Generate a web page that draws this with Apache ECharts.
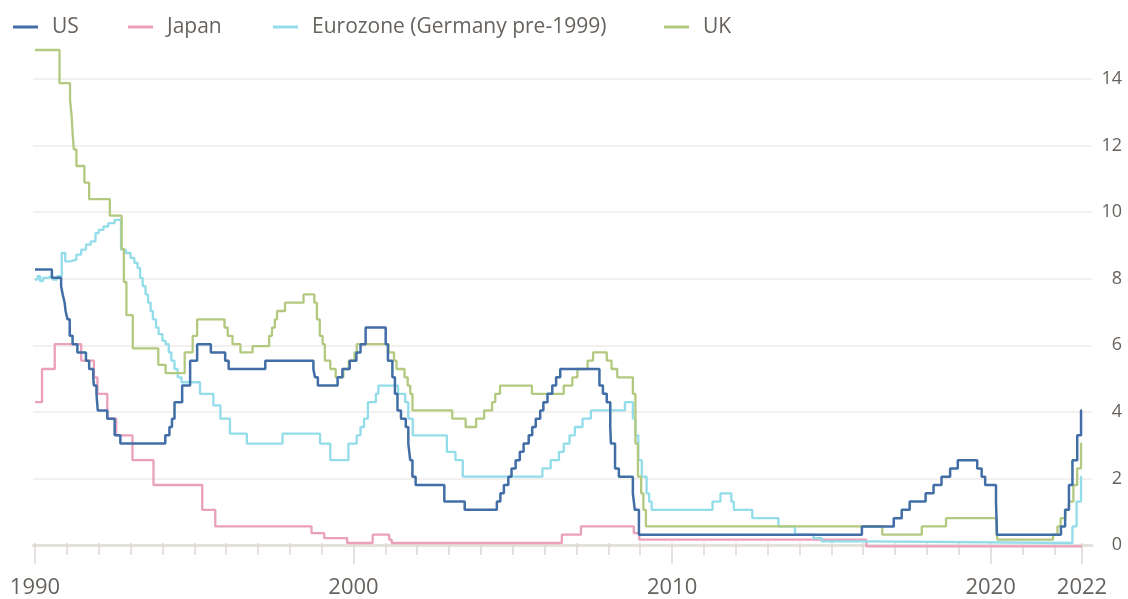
<!DOCTYPE html>
<html>
<head>
<meta charset="utf-8">
<script src="https://cdn.jsdelivr.net/npm/echarts@6/dist/echarts.min.js"></script>
<style>
  html, body { margin: 0; padding: 0; background: #ffffff; }
  #main { width: 1128px; height: 599px; }
</style>
</head>
<body>
<div id="main"></div>
<script>
// Policy interest rates, %. Each pair is [decimal year, rate from that date on].
const usRate = [
  [1990.0, 8.25], [1990.53, 8.0], [1990.82, 7.75], [1990.87, 7.5], [1990.93, 7.25], [1990.96, 7.0],
  [1991.02, 6.75], [1991.09, 6.25], [1991.18, 6.0], [1991.33, 5.75], [1991.6, 5.5], [1991.7, 5.25],
  [1991.83, 5.0], [1991.85, 4.75], [1991.93, 4.5], [1991.97, 4.0], [1992.27, 3.75], [1992.5, 3.25],
  [1992.68, 3.0], [1994.09, 3.25], [1994.22, 3.5], [1994.3, 3.75], [1994.38, 4.25], [1994.62, 4.75],
  [1994.87, 5.5], [1995.09, 6.0], [1995.52, 5.75], [1995.97, 5.5], [1996.08, 5.25], [1997.23, 5.5],
  [1998.74, 5.25], [1998.79, 5.0], [1998.88, 4.75], [1999.5, 5.0], [1999.65, 5.25], [1999.88, 5.5],
  [2000.09, 5.75], [2000.22, 6.0], [2000.38, 6.5], [2001.01, 6.0], [2001.08, 5.5], [2001.22, 5.0],
  [2001.3, 4.5], [2001.38, 4.0], [2001.49, 3.75], [2001.64, 3.5], [2001.72, 3.0], [2001.78, 2.5],
  [2001.85, 2.0], [2001.95, 1.75], [2002.85, 1.25], [2003.49, 1.0], [2004.5, 1.25], [2004.61, 1.5],
  [2004.72, 1.75], [2004.86, 2.0], [2004.96, 2.25], [2005.09, 2.5], [2005.22, 2.75], [2005.34, 3.0],
  [2005.5, 3.25], [2005.61, 3.5], [2005.72, 3.75], [2005.86, 4.0], [2005.96, 4.25], [2006.09, 4.5],
  [2006.24, 4.75], [2006.36, 5.0], [2006.49, 5.25], [2007.72, 4.75], [2007.83, 4.5], [2007.95, 4.25],
  [2008.06, 3.5], [2008.08, 3.0], [2008.21, 2.25], [2008.33, 2.0], [2008.77, 1.5], [2008.83, 1.0],
  [2008.96, 0.25], [2015.96, 0.5], [2016.96, 0.75], [2017.21, 1.0], [2017.46, 1.25], [2017.96, 1.5],
  [2018.21, 1.75], [2018.46, 2.0], [2018.73, 2.25], [2018.97, 2.5], [2019.58, 2.25], [2019.72, 2.0],
  [2019.83, 1.75], [2020.17, 1.25], [2020.2, 0.25], [2022.21, 0.5], [2022.34, 1.0], [2022.46, 1.75],
  [2022.57, 2.5], [2022.72, 3.25], [2022.84, 4.0], [2022.87, 4.0]
];

const japanRate = [
  [1990.0, 4.25], [1990.22, 5.25], [1990.62, 6.0], [1991.45, 5.5], [1991.85, 5.0], [1991.96, 4.5],
  [1992.27, 3.75], [1992.55, 3.25], [1993.06, 2.5], [1993.72, 1.75], [1995.25, 1.0], [1995.66, 0.5],
  [1998.68, 0.3], [1999.08, 0.15], [1999.8, 0.0], [2000.6, 0.25], [2001.12, 0.1], [2001.2, 0.0],
  [2006.54, 0.25], [2007.14, 0.5], [2008.8, 0.3], [2008.97, 0.1], [2016.1, -0.1], [2022.87, -0.1]
];

const eurozoneRate = [
  [1990.0, 7.95], [1990.08, 8.05], [1990.16, 7.9], [1990.25, 8.0], [1990.4, 8.05], [1990.55, 7.95],
  [1990.7, 8.05], [1990.84, 8.75], [1990.95, 8.5], [1991.1, 8.55], [1991.3, 8.7], [1991.45, 8.85],
  [1991.6, 9.0], [1991.75, 9.1], [1991.9, 9.35], [1992.0, 9.45], [1992.15, 9.55], [1992.3, 9.65],
  [1992.5, 9.75], [1992.7, 8.85], [1992.85, 8.75], [1993.0, 8.6], [1993.12, 8.45], [1993.22, 8.3],
  [1993.3, 8.0], [1993.38, 7.75], [1993.47, 7.5], [1993.55, 7.25], [1993.63, 7.0], [1993.7, 6.75],
  [1993.8, 6.5], [1993.88, 6.3], [1994.0, 6.1], [1994.1, 6.0], [1994.2, 5.75], [1994.28, 5.5],
  [1994.38, 5.25], [1994.48, 5.0], [1994.6, 4.85], [1995.18, 4.5], [1995.6, 4.15], [1995.82, 3.75],
  [1996.12, 3.3], [1996.65, 3.0], [1997.77, 3.3], [1998.95, 3.0], [1999.27, 2.5], [1999.84, 3.0],
  [2000.1, 3.25], [2000.22, 3.5], [2000.33, 3.75], [2000.45, 4.25], [2000.7, 4.5], [2000.78, 4.75],
  [2001.4, 4.5], [2001.62, 4.25], [2001.72, 3.75], [2001.86, 3.25], [2002.93, 2.75], [2003.2, 2.5],
  [2003.43, 2.0], [2005.93, 2.25], [2006.19, 2.5], [2006.45, 2.75], [2006.6, 3.0], [2006.78, 3.25],
  [2006.95, 3.5], [2007.19, 3.75], [2007.45, 4.0], [2008.52, 4.25], [2008.77, 3.75], [2008.85, 3.25],
  [2008.94, 2.5], [2009.05, 2.0], [2009.2, 1.5], [2009.28, 1.25], [2009.36, 1.0], [2011.27, 1.25],
  [2011.52, 1.5], [2011.86, 1.25], [2011.94, 1.0], [2012.52, 0.75], [2013.34, 0.5], [2013.86, 0.25],
  [2014.44, 0.15], [2014.7, 0.05], [2016.2, 0.0], [2022.57, 0.5], [2022.7, 1.25], [2022.84, 2.0],
  [2022.87, 2.0]
];

const ukRate = [
  [1990.0, 14.875], [1990.77, 13.875], [1991.1, 13.375], [1991.15, 12.875], [1991.18, 12.375],
  [1991.22, 11.875], [1991.3, 11.375], [1991.55, 10.875], [1991.7, 10.375], [1992.35, 9.875],
  [1992.72, 8.875], [1992.79, 7.875], [1992.87, 6.875], [1993.07, 5.875], [1993.87, 5.375],
  [1994.1, 5.125], [1994.7, 5.75], [1994.95, 6.25], [1995.09, 6.75], [1995.95, 6.5], [1996.05, 6.25],
  [1996.2, 6.0], [1996.45, 5.75], [1996.83, 5.94], [1997.35, 6.25], [1997.44, 6.5], [1997.53, 6.75],
  [1997.6, 7.0], [1997.85, 7.25], [1998.43, 7.5], [1998.77, 7.25], [1998.85, 6.75], [1998.94, 6.25],
  [1999.03, 6.0], [1999.1, 5.5], [1999.27, 5.25], [1999.44, 5.0], [1999.68, 5.25], [1999.85, 5.5],
  [2000.03, 5.75], [2000.1, 6.0], [2001.1, 5.75], [2001.27, 5.5], [2001.35, 5.25], [2001.6, 5.0],
  [2001.7, 4.75], [2001.78, 4.5], [2001.85, 4.0], [2003.1, 3.75], [2003.52, 3.5], [2003.85, 3.75],
  [2004.1, 4.0], [2004.35, 4.25], [2004.45, 4.5], [2004.6, 4.75], [2005.6, 4.5], [2006.6, 4.75],
  [2006.87, 5.0], [2007.03, 5.25], [2007.35, 5.5], [2007.52, 5.75], [2007.95, 5.5], [2008.1, 5.25],
  [2008.28, 5.0], [2008.77, 4.5], [2008.85, 3.0], [2008.93, 2.0], [2009.03, 1.5], [2009.1, 1.0],
  [2009.18, 0.5], [2016.6, 0.25], [2017.84, 0.5], [2018.6, 0.75], [2020.19, 0.25], [2020.22, 0.1],
  [2021.96, 0.25], [2022.1, 0.5], [2022.2, 0.75], [2022.35, 1.0], [2022.46, 1.25], [2022.6, 1.75],
  [2022.72, 2.25], [2022.84, 3.0], [2022.87, 3.0]
];

const seriesNames = ['US', 'Japan', 'Eurozone (Germany pre-1999)', 'UK'];
const seriesColors = ['#416ea6', '#eaa0b8', '#93dce9', '#b3c97f'];

// Time span of the x axis; labelled ticks fall every ten years plus the final date
const yearStart = 1990;
const yearEnd = 2022.87;
const rateMax = 14;

const FONT = '"Open Sans", "Noto Sans", sans-serif';
const TEXT_COLOR = '#67625d';

const chart = echarts.init(document.getElementById('main'));

function rateSeries(name, data, color, width, z) {
  return {
    name: name,
    type: 'line',
    xAxisIndex: 0,
    yAxisIndex: 0,
    step: 'end',
    data: data,
    showSymbol: false,
    clip: false,
    z: z,
    color: color,
    lineStyle: { color: color, width: width },
    emphasis: { disabled: true }
  };
}

// One legend block per series so each entry sits at its own offset
const legendLefts = [8, 123, 268, 659];
const legends = seriesNames.map((name, i) => ({
  data: [name],
  left: legendLefts[i],
  top: 11,
  icon: 'rect',
  itemWidth: 25,
  itemHeight: 3,
  selectedMode: false,
  textStyle: {
    fontFamily: FONT,
    fontSize: 21,
    lineHeight: 22,
    color: TEXT_COLOR,
    padding: [0, 0, 0, 9]
  }
}));

chart.setOption({
  animation: false,
  backgroundColor: '#ffffff',
  legend: legends,
  grid: [
    // plotting area
    { left: 35, right: 46, top: 79, bottom: 54 },
    // background grid lines, zero line and rate labels
    { left: 33, right: 36, top: 79, bottom: 54 }
  ],
  xAxis: [
    {
      gridIndex: 0, type: 'value', position: 'bottom', min: yearStart, max: yearEnd, interval: 1,
      axisLine: { show: false, onZero: false },
      axisTick: { show: true, length: 12, lineStyle: { color: '#dcd8d4', width: 1.5 } },
      axisLabel: { show: false },
      splitLine: { show: false }
    },
    {
      gridIndex: 0, type: 'value', position: 'bottom', offset: 0, min: yearStart, max: yearEnd, interval: 10,
      axisLine: { show: false, onZero: false },
      axisTick: { show: true, length: 21, lineStyle: { color: '#dcd8d4', width: 1.5 } },
      axisLabel: {
        show: true, margin: 34, fontFamily: FONT, fontSize: 22, color: TEXT_COLOR,
        formatter: v => String(Math.floor(v))
      },
      splitLine: { show: false }
    },
    {
      gridIndex: 1, type: 'value', position: 'bottom', min: 0, max: 1,
      axisLine: { show: true, onZero: false, lineStyle: { color: '#e4e0dc', width: 3 } },
      axisTick: { show: false },
      axisLabel: { show: false },
      splitLine: { show: false }
    }
  ],
  yAxis: [
    {
      gridIndex: 0, type: 'value', min: 0, max: rateMax, interval: 2, show: false,
      splitLine: { show: false }
    },
    {
      gridIndex: 1, type: 'value', min: 0, max: rateMax, interval: 2, position: 'right',
      axisLine: { show: false },
      axisTick: { show: false },
      axisLabel: {
        show: true, margin: 30, align: 'right', fontFamily: FONT, fontSize: 18, color: TEXT_COLOR
      },
      splitLine: { show: true, lineStyle: { color: '#efebe7', width: 1.5 } }
    }
  ],
  series: [
    rateSeries(seriesNames[1], japanRate, seriesColors[1], 2.3, 3),
    rateSeries(seriesNames[2], eurozoneRate, seriesColors[2], 2.3, 4),
    rateSeries(seriesNames[3], ukRate, seriesColors[3], 2.3, 5),
    rateSeries(seriesNames[0], usRate, seriesColors[0], 2.5, 6)
  ]
});
</script>
</body>
</html>
